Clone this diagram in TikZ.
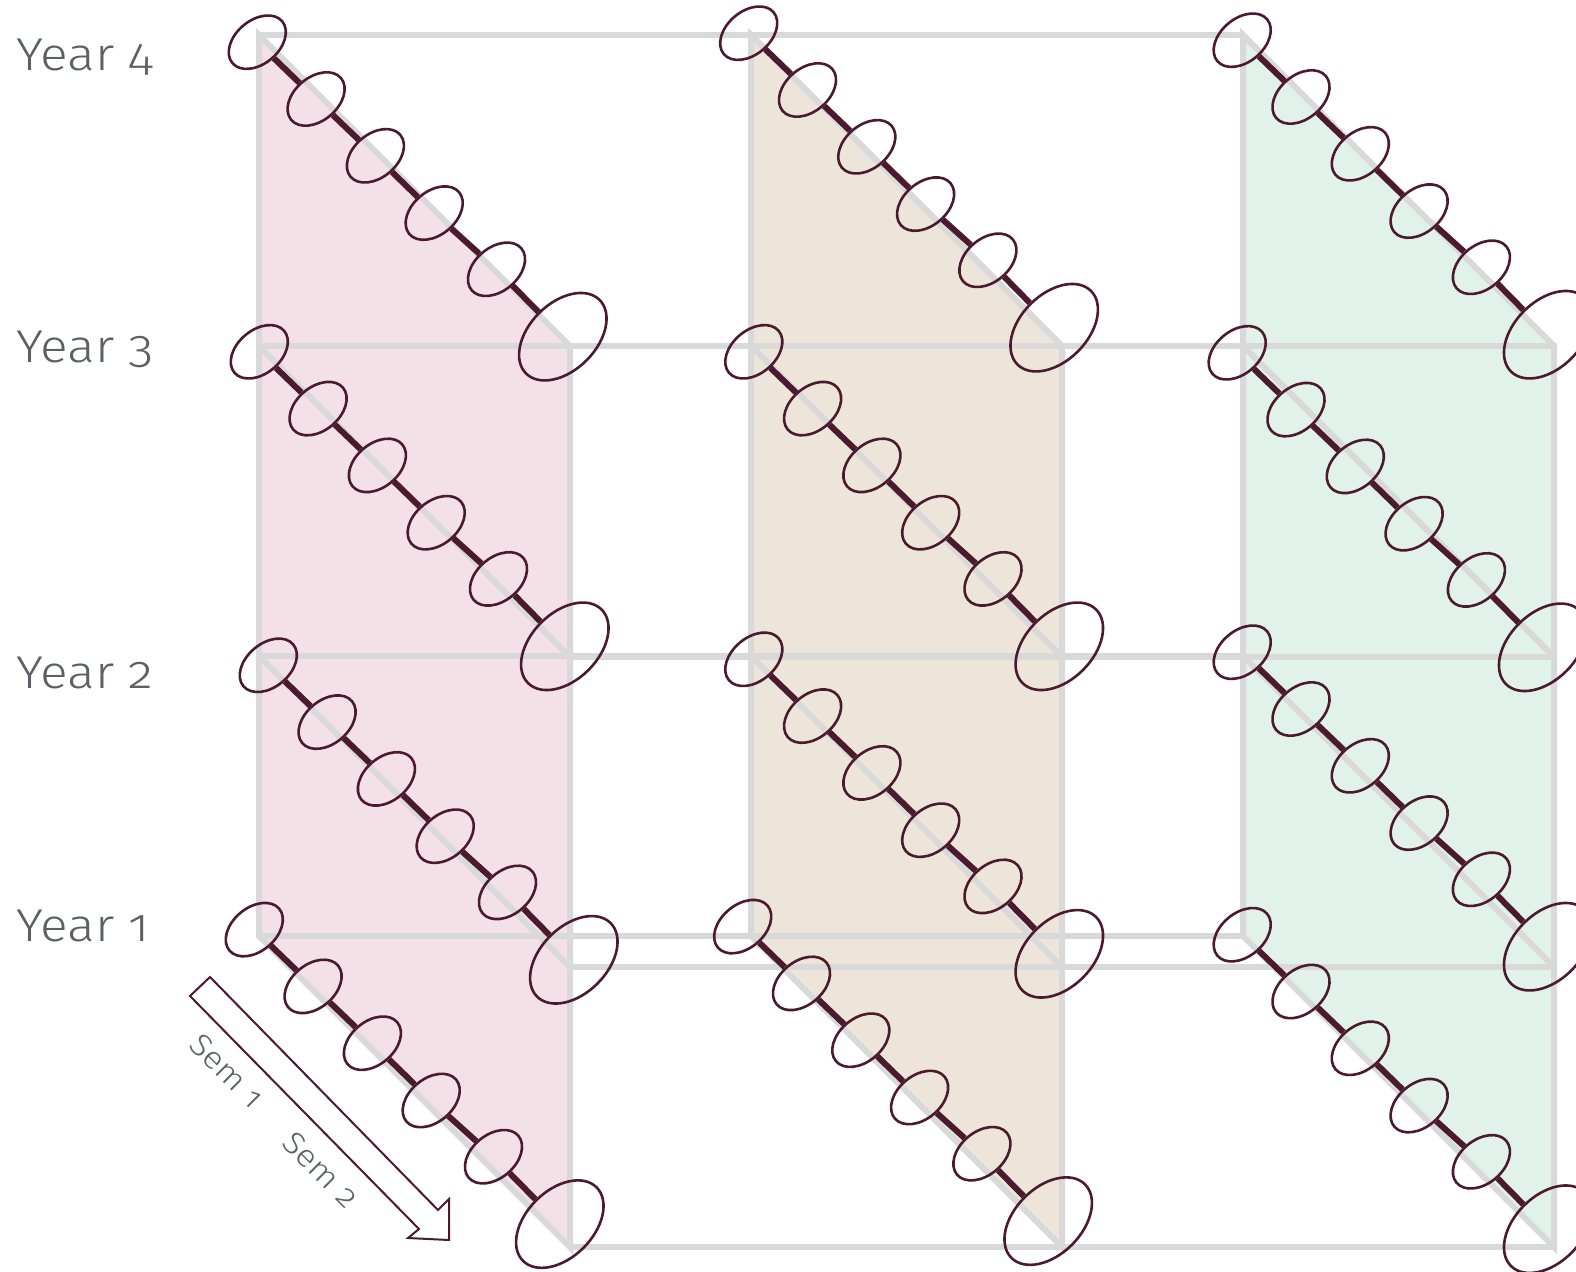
\documentclass[tikz,border=0pt]{standalone}
\usepackage{fontspec}
\newfontfamily\labfont{Fira Sans Light}[Numbers=OldStyle,FakeStretch=1.12]
\usetikzlibrary{shapes.geometric}
\definecolor{gridgray}{HTML}{D9D9D9}
\definecolor{chaincol}{HTML}{4B1A2E}
\definecolor{labgray}{HTML}{5A6064}
\definecolor{pinkfill}{HTML}{F3E1E7}
\definecolor{beigefill}{HTML}{EDE5D9}
\definecolor{greenfill}{HTML}{E1F2EB}
\begin{document}
\begin{tikzpicture}[x=1pt,y=-1pt,
  gridline/.style={draw=gridgray,line width=6pt},
  smallring/.style={ellipse,draw=chaincol,line width=2.6pt,minimum width=65pt,minimum height=43.5pt,inner sep=0pt,rotate=40},
  bigring/.style={ellipse,draw=chaincol,line width=2.6pt,minimum width=104pt,minimum height=67pt,inner sep=0pt,rotate=45},
  chainline/.style={draw=chaincol,line width=6pt},
  yearlabel/.style={font=\labfont\fontsize{46}{52}\selectfont,text=labgray,anchor=base west,inner sep=0pt},
  semlabel/.style={font=\labfont\fontsize{31}{36}\selectfont,text=labgray,rotate=-45,inner sep=0pt}]
\useasboundingbox (0,0) rectangle (1576,1271);
% panel fills
\foreach \px/\col in {259/pinkfill,751/beigefill,1243/greenfill}{
  \fill[\col] (\px,35) -- (\px,936) -- (\px+311,1247) -- (\px+311,346) -- cycle;
}
% horizontal grid lines (back and front)
\foreach \yy in {35,346,656,936}{
  \draw[gridline] (259,\yy) -- (1243,\yy);
}
\foreach \yy in {346,657,967,1247}{
  \draw[gridline] (570,\yy) -- (1557,\yy);
}
% panel outlines and inner diagonals
\foreach \px in {259,751,1243}{
  \draw[gridline] (\px,35) -- (\px,936) -- (\px+311,1247) -- (\px+311,346) -- cycle;
  \foreach \yy in {346,656}{
    \draw[gridline] (\px,\yy) -- (\px+311,\yy+311);
  }
}
% chains
\foreach \p/\r/\sx/\sy in {
  1/4/257.3/42.2, 1/3/259.3/351.8, 1/2/268.3/665.3, 1/1/254.3/929.6,
  2/4/748.7/33.2, 2/3/753.8/351.8, 2/2/753.8/659.3, 2/1/742.7/926.6,
  3/4/1242.2/40.2, 3/3/1237.2/352.8, 3/2/1242.2/652.2, 3/1/1242.2/934.7}{
  \node[smallring] (c\p\r a) at (\sx,\sy) {};
  \node[smallring] (c\p\r b) at (\sx+58.8,\sy+56.8) {};
  \node[smallring] (c\p\r c) at (\sx+118.1,\sy+113.6) {};
  \node[smallring] (c\p\r d) at (\sx+176.9,\sy+170.9) {};
  \node[smallring] (c\p\r e) at (\sx+239.2,\sy+227.1) {};
  \node[bigring] (c\p\r f) at (\sx+305.5,\sy+294.5) {};
  \foreach \u/\v in {a/b,b/c,c/d,d/e,e/f}{
    \draw[chainline] (c\p\r\u) -- (c\p\r\v);
  }
}
% semester arrow
\draw[draw=chaincol,line width=2pt,fill=white,line join=miter]
  (190,996) -- (419,1229) -- (408,1238) -- (449,1240) -- (449,1199) -- (438,1210) -- (210,977) -- cycle;
\node[semlabel] (sem1) at (227,1071) {Sem 1};
\node[semlabel] (sem2) at (321,1170) {Sem 2};
% year labels
\node[yearlabel] (y4) at (16,71) {Year 4};
\node[yearlabel] (y3) at (16,362) {Year 3};
\node[yearlabel] (y2) at (16,688) {Year 2};
\node[yearlabel] (y1) at (16,941) {Year 1};
\end{tikzpicture}
\end{document}
